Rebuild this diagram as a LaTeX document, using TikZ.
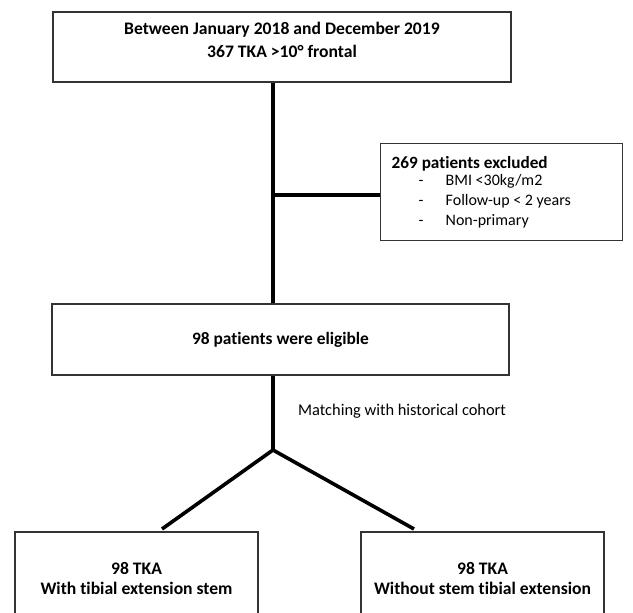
\documentclass[tikz,border=0pt]{standalone}
\usepackage{fontspec}
\setmainfont[Ligatures=NoCommon]{Carlito}
\begin{document}
\begin{tikzpicture}[x=1pt,y=-1pt,
		box/.style={draw=black!80,line width=1.4pt,align=center,inner sep=0pt},
		flow/.style={line width=3.6pt},
	]
		\useasboundingbox (0,0) rectangle (633,613);
		\clip (0,0) rectangle (633,613);
	
		\node[box,minimum width=458,minimum height=70,text depth=15pt,font=\fontsize{17.6}{23}\selectfont\bfseries] (start) at (282,47) {Between January 2018 and December 2019\\367 TKA >10° frontal};
		\node[box,anchor=north west,inner xsep=11pt,inner ysep=12.5pt,align=left] (excl) at (380,143) {\parbox[t][72pt][t]{220pt}{%
			{\fontsize{17.2}{20}\selectfont\bfseries 269 patients excluded\par}\vspace{-3pt}
			\fontsize{16}{20}\selectfont
			\makebox[27pt][l]{}\makebox[27pt][l]{-}BMI <30kg/m2\par
			\makebox[27pt][l]{}\makebox[27pt][l]{-}Follow-up < 2 years\par
			\makebox[27pt][l]{}\makebox[27pt][l]{-}Non-primary}};
		\node[box,minimum width=457,minimum height=71,font=\fontsize{17.4}{20}\selectfont\bfseries] (elig) at (280.5,339.5) {98 patients were eligible};
		\node[anchor=west,inner sep=0pt,font=\fontsize{16.4}{18}\selectfont] (match) at (298,411) {Matching with historical cohort};
		\node[box,minimum width=243,minimum height=92,font=\fontsize{17.6}{20}\selectfont\bfseries] (withstem) at (136.5,578) {98 TKA\\With tibial extension stem};
		\node[box,minimum width=243,minimum height=92,font=\fontsize{17.6}{20}\selectfont\bfseries] (nostem) at (482.5,578) {98 TKA\\Without stem tibial extension};
		
		\coordinate (split) at (273,195);
		\coordinate (fork) at (273,450);
		\coordinate (ltip) at (162,529);
		\coordinate (rtip) at (414,529);
		\draw[flow] (start.south -| split) -- (elig.north -| split);
		\draw[flow] (split) -- (excl.west |- split);
		\draw[flow] (elig.south -| fork) -- (fork);
		\draw[flow] (ltip) -- (fork) -- (rtip);
\end{tikzpicture}
\end{document}
